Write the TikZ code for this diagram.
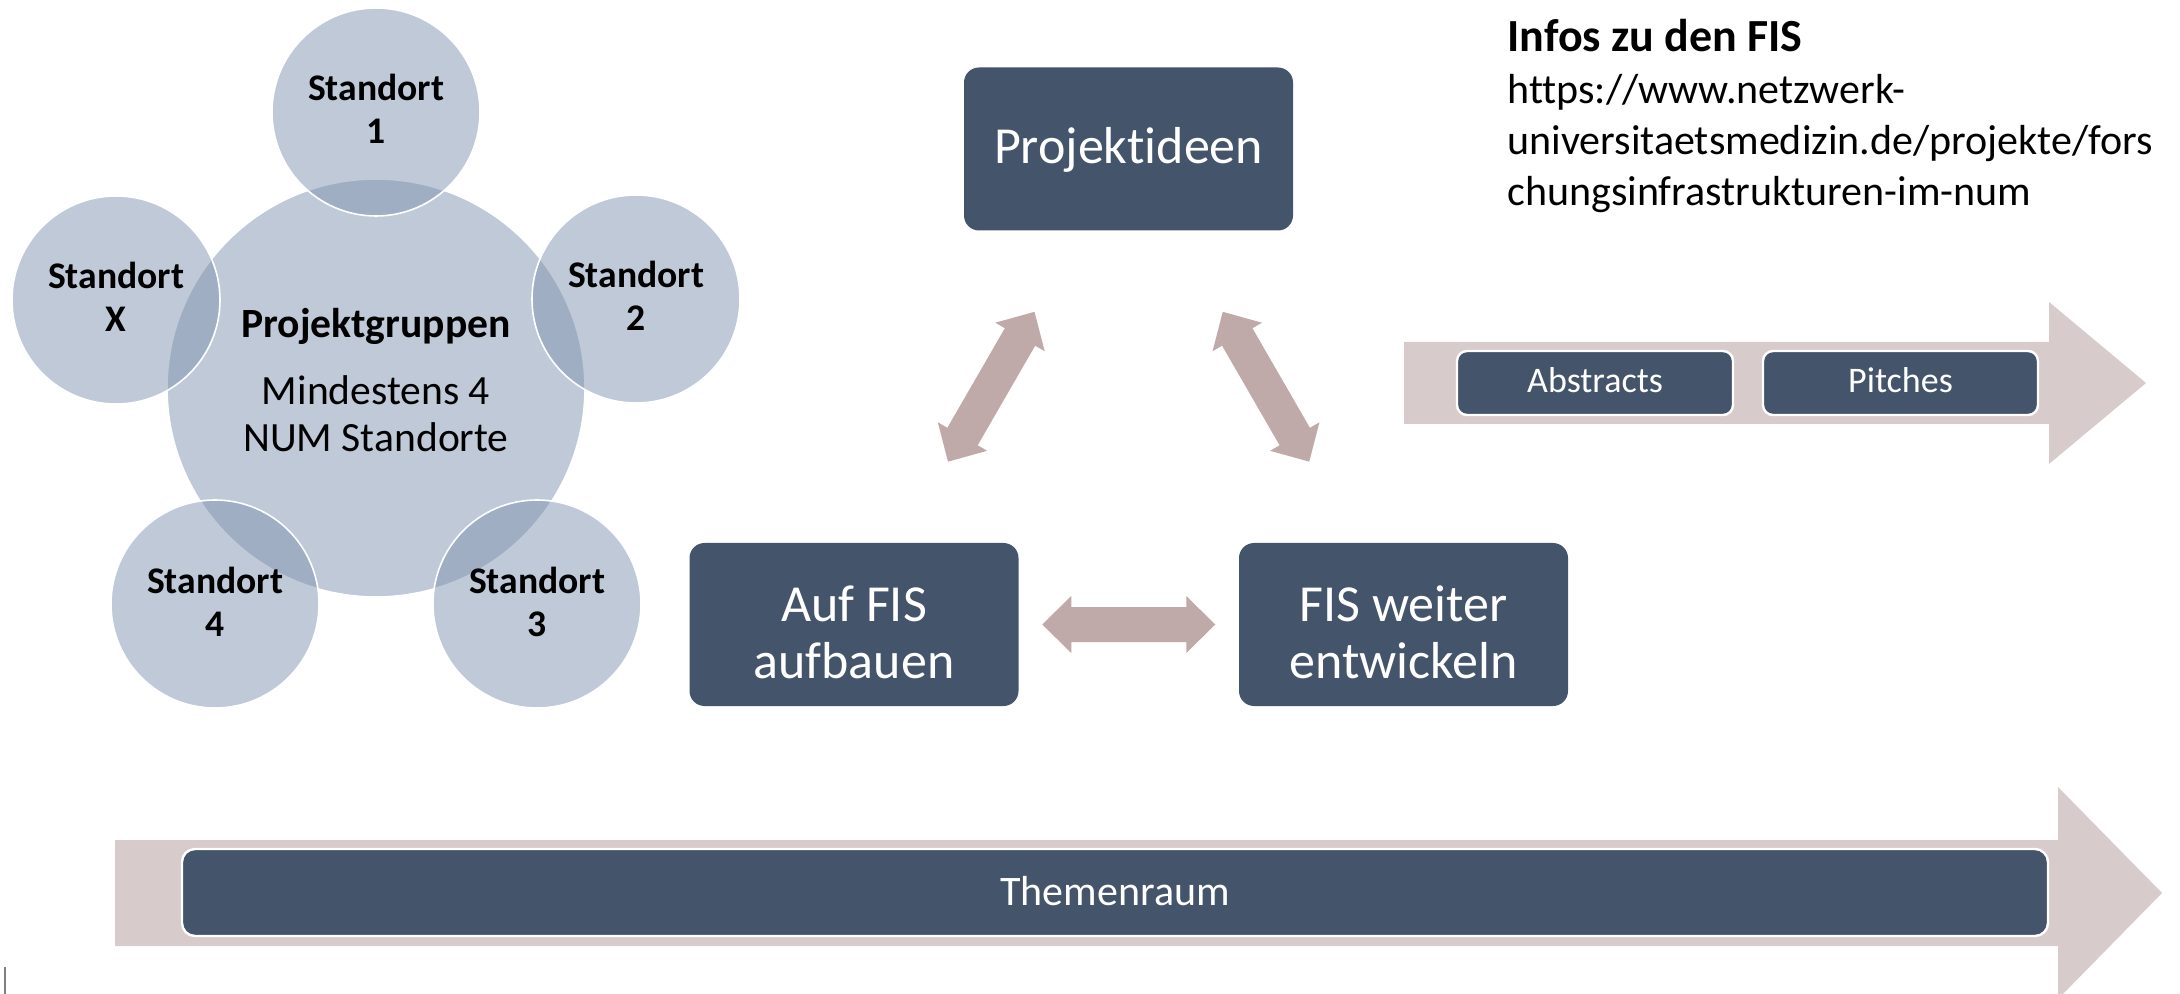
\documentclass[tikz,border=0pt]{standalone}
\usepackage{fontspec}
\setmainfont{Carlito}[Ligatures={NoCommon}]
\usetikzlibrary{calc}
\definecolor{boxc}{HTML}{44546A}
\definecolor{circc}{RGB}{129,149,177}
\definecolor{arrc}{HTML}{BFA9A9}
\definecolor{bigc}{HTML}{D8CBCB}
\tikzset{
  hub/.style={circle, minimum size=209pt, inner sep=0pt, fill=circc, fill opacity=0.5, draw=white, draw opacity=1, line width=0.8pt},
  sat/.style={circle, minimum size=104pt, inner sep=0pt, fill=circc, fill opacity=0.5, draw=white, draw opacity=1, line width=0.8pt},
  satlbl/.style={inner sep=0pt, anchor=base, text=black, font=\fontsize{18.8pt}{21.5pt}\selectfont\bfseries},
  hublbl/.style={inner sep=0pt, anchor=base, text=black, font=\fontsize{20.8pt}{23.5pt}\selectfont},
  bigbox/.style={rectangle, rounded corners=7.5pt, fill=boxc, inner sep=0pt, minimum width=164.5pt, minimum height=81.5pt},
  bigtxt/.style={inner sep=0pt, anchor=base, text=white, font=\fontsize{26pt}{28.5pt}\selectfont},
  smallbox/.style={rectangle, rounded corners=5pt, fill=boxc, draw=white, line width=1.2pt, inner sep=0pt, minimum height=32pt},
  smalltxt/.style={inner sep=0pt, anchor=base, text=white, font=\fontsize{18pt}{21pt}\selectfont},
  infotxt/.style={inner sep=0pt, anchor=base west, text=black, font=\fontsize{21pt}{25.5pt}\selectfont},
  dblarr/.pic={\fill[arrc] (-86.5,0) -- (-57.5,28.5) -- (-57.5,17.5) -- (57.5,17.5) -- (57.5,28.5) -- (86.5,0) -- (57.5,-28.5) -- (57.5,-17.5) -- (-57.5,-17.5) -- (-57.5,-28.5) -- cycle;}
}
\begin{document}
\begin{tikzpicture}[x=0.5pt, y=-0.5pt]
\useasboundingbox (0,0) rectangle (2180,994);
\fill[white] (0,0) rectangle (2180,994);

% circles
\node[hub] (hub) at (376,388) {};
\node[sat] (s1) at (376,112) {};
\node[sat] (s2) at (636,299) {};
\node[sat] (s3) at (537,604) {};
\node[sat] (s4) at (215,604) {};
\node[sat] (sx) at (116,300) {};

\node[satlbl] (s1a) at (376,101) {Standort};
\node[satlbl] (s1b) at (376,144) {1};
\node[satlbl] (s2a) at (636,288) {Standort};
\node[satlbl] (s2b) at (636,331) {2};
\node[satlbl] (s3a) at (537,593) {Standort};
\node[satlbl] (s3b) at (537,636) {3};
\node[satlbl] (s4a) at (215,593) {Standort};
\node[satlbl] (s4b) at (215,636) {4};
\node[satlbl] (sxa) at (116,289) {Standort};
\node[satlbl] (sxb) at (116,332) {X};

\node[hublbl, font=\fontsize{20.8pt}{23.5pt}\selectfont\bfseries] (h1) at (376,338) {Projektgruppen};
\node[hublbl] (h2) at (376,405) {Mindestens 4};
\node[hublbl] (h3) at (376,452) {NUM Standorte};

% main boxes
\node[bigbox] (proj) at (1128.5,149) {};
\node[bigbox] (aufb) at (854,624.5) {};
\node[bigbox] (fisw) at (1403.5,624.5) {};
\node[bigtxt] (projt) at (1128.5,164) {Projektideen};
\node[bigtxt] (aufb1) at (854,621) {Auf FIS};
\node[bigtxt] (aufb2) at (854,678) {aufbauen};
\node[bigtxt] (fisw1) at (1403.5,621) {FIS weiter};
\node[bigtxt] (fisw2) at (1403.5,678) {entwickeln};

% double arrows between boxes
\pic[rotate=60] at ($(aufb)!0.5!(proj)$) {dblarr};
\pic[rotate=-60] at ($(proj)!0.5!(fisw)$) {dblarr};
\pic at ($(aufb)!0.5!(fisw)$) {dblarr};

% top-right arrow with Abstracts / Pitches
\fill[bigc] (1404,342) -- (2049,342) -- (2049,302) -- (2146,383) -- (2049,464) -- (2049,424) -- (1404,424) -- cycle;
\node[smallbox, minimum width=138pt] (abs) at (1595,383) {};
\node[smallbox, minimum width=137.5pt] (pit) at (1900.5,383) {};
\node[smalltxt] (abst) at (1595,393) {Abstracts};
\node[smalltxt] (pitt) at (1900.5,393) {Pitches};

% bottom arrow with Themenraum
\fill[bigc] (115,840) -- (2058,840) -- (2058,787) -- (2162,893) -- (2058,999) -- (2058,946) -- (115,946) -- cycle;
\node[smallbox, rounded corners=6.5pt, minimum width=933pt, minimum height=43.5pt] (them) at (1115,892.5) {};
\node[smalltxt, font=\fontsize{21pt}{25pt}\selectfont] (themt) at (1115,905) {Themenraum};

% info text
\node[infotxt, font=\fontsize{23pt}{27pt}\selectfont\bfseries] (info) at (1507,52) {Infos zu den FIS};
\node[infotxt] (url1) at (1507,104) {https://www.netzwerk-};
\node[infotxt] (url2) at (1507,155) {universitaetsmedizin.de/projekte/fors};
\node[infotxt] (url3) at (1507,206) {chungsinfrastrukturen-im-num};

% small cursor mark
\draw[gray, line width=1pt] (5,967) -- (5,994);
\end{tikzpicture}
\end{document}
